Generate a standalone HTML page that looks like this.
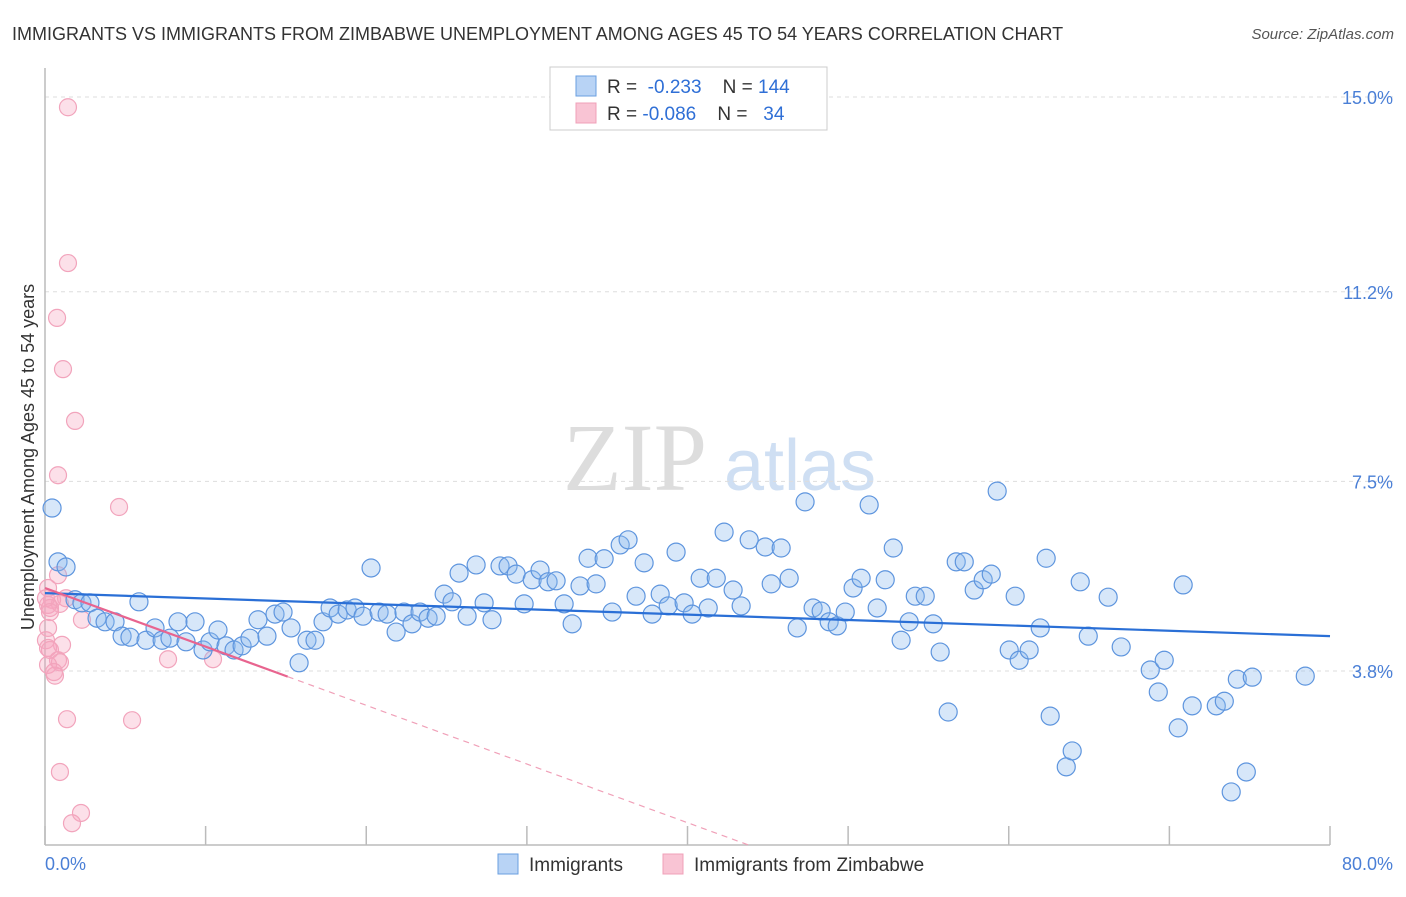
<!DOCTYPE html>
<html><head><meta charset="utf-8"><style>
body{margin:0;background:#fff;font-family:"Liberation Sans",sans-serif;}
svg text{font-family:"Liberation Sans",sans-serif;}
</style></head><body>
<svg id="chart" width="1406" height="892" viewBox="0 0 1406 892" xmlns="http://www.w3.org/2000/svg">
<text x="12" y="40" font-size="18" fill="#333">IMMIGRANTS VS IMMIGRANTS FROM ZIMBABWE UNEMPLOYMENT AMONG AGES 45 TO 54 YEARS CORRELATION CHART</text>
<text x="1394" y="39" font-size="15" fill="#555" text-anchor="end" font-style="italic">Source: ZipAtlas.com</text>
<g>
<text x="635" y="490" font-size="96" fill="#ddd" text-anchor="middle" font-family="Liberation Serif" style="font-family:'Liberation Serif',serif">ZIP</text>
<text x="800" y="490" font-size="72" fill="#cfdff3" text-anchor="middle">atlas</text>
</g>
<g id="grid"></g>
<g id="axes"></g>
<g id="pink-pts"></g>
<g id="blue-pts"></g>
<g id="trends"></g>
<text transform="translate(34,457) rotate(-90)" font-size="18" fill="#333" text-anchor="middle">Unemployment Among Ages 45 to 54 years</text>
<text x="45" y="870" font-size="18" fill="#4a7fd6">0.0%</text>
<text x="1393" y="870" font-size="18" fill="#4a7fd6" text-anchor="end">80.0%</text>
<g>
<rect x="550" y="67" width="277" height="63" fill="#fff" stroke="#ccc"/>
<rect x="576" y="76" width="20" height="20" fill="#b8d3f5" stroke="#6a9fe0"/>
<rect x="576" y="103" width="20" height="20" fill="#f9c4d4" stroke="#f0a0b8"/>
<text x="607" y="93" font-size="19" fill="#333">R = <tspan fill="#2f6fd6">&#160;-0.233</tspan>&#160;&#160;&#160;&#160;N = <tspan fill="#2f6fd6">144</tspan></text>
<text x="607" y="120" font-size="19" fill="#333">R = <tspan fill="#2f6fd6">-0.086</tspan>&#160;&#160;&#160;&#160;N = <tspan fill="#2f6fd6">&#160;&#160;34</tspan></text>
</g>
<g>
<rect x="498" y="854" width="20" height="20" fill="#b8d3f5" stroke="#6a9fe0"/>
<text x="529" y="871" font-size="19" fill="#333">Immigrants</text>
<rect x="663" y="854" width="20" height="20" fill="#f9c4d4" stroke="#f0a0b8"/>
<text x="694" y="871" font-size="19" fill="#333">Immigrants from Zimbabwe</text>
</g>
</svg>
<script>
const yTicks=[3.8,7.5,11.2,15.0];
const yTickLabels=["3.8%","7.5%","11.2%","15.0%"];
const xTicks=[0,10,20,30,40,50,60,70,80];
const blueX=[0.44,0.81,1.31,1.87,2.30,2.80,3.24,3.74,4.36,4.80,5.29,5.85,6.29,6.85,7.29,7.78,8.28,8.78,9.34,9.84,10.27,10.77,11.27,11.77,12.27,12.76,13.26,13.82,14.32,14.82,15.32,15.82,16.31,16.81,17.31,17.75,18.25,18.81,19.30,19.80,20.30,20.80,21.30,21.86,22.35,22.85,23.35,23.85,24.35,24.85,25.34,25.78,26.28,26.84,27.34,27.83,28.33,28.83,29.33,29.83,30.33,30.82,31.32,31.82,32.32,32.82,33.31,33.81,34.31,34.81,35.31,35.81,36.30,36.80,37.30,37.80,38.30,38.80,39.29,39.79,40.29,40.79,41.29,41.79,42.28,42.84,43.34,43.84,44.84,45.21,45.83,46.33,46.83,47.32,47.82,48.32,48.82,49.32,49.82,50.31,50.81,51.31,51.81,52.31,52.81,53.30,53.80,54.18,54.80,55.30,55.73,56.23,56.73,57.23,57.85,58.41,58.91,59.28,60.03,60.40,60.65,61.27,61.96,62.33,62.58,63.58,63.95,64.45,64.95,66.19,67.00,68.81,69.31,69.68,70.55,70.86,71.42,72.92,73.42,73.85,74.23,74.79,75.16,78.46];
const blueY=[6.98,5.93,5.83,5.19,5.13,5.13,4.83,4.76,4.76,4.48,4.46,5.15,4.40,4.64,4.40,4.44,4.76,4.37,4.76,4.21,4.37,4.60,4.29,4.21,4.29,4.44,4.80,4.48,4.91,4.95,4.64,3.96,4.40,4.40,4.76,5.03,4.91,4.99,5.03,4.87,5.81,4.95,4.91,4.56,4.95,4.72,4.95,4.83,4.87,5.30,5.15,5.71,4.87,5.87,5.13,4.80,5.85,5.85,5.69,5.11,5.58,5.77,5.54,5.56,5.11,4.72,5.46,6.00,5.50,5.99,4.95,6.26,6.36,5.26,5.91,4.91,5.30,5.07,6.12,5.13,4.91,5.61,5.03,5.61,6.51,5.38,5.07,6.36,6.22,5.50,6.20,5.61,4.64,7.10,5.03,4.97,4.76,4.68,4.95,5.42,5.61,7.04,5.03,5.58,6.20,4.40,4.76,5.26,5.26,4.72,4.17,3.00,5.93,5.93,5.38,5.58,5.69,7.31,4.21,5.26,4.01,4.21,4.64,6.00,2.92,1.93,2.24,5.54,4.48,5.24,4.27,3.82,3.39,4.01,2.69,5.48,3.12,3.12,3.21,1.44,3.64,1.83,3.68,3.70];
const pinkX=[1.43,1.43,0.75,1.12,1.87,0.81,4.61,0.81,0.19,1.31,0.44,0.93,0.19,0.31,2.30,0.19,0.06,1.06,0.19,0.31,0.81,0.93,0.19,0.56,0.62,7.66,10.46,1.37,5.42,0.93,2.24,1.68,0.06,0.31];
const pinkY=[14.80,11.76,10.69,9.69,8.68,7.62,7.00,5.67,5.42,5.22,5.19,5.11,5.09,5.03,4.80,4.64,4.40,4.31,4.25,4.21,4.01,3.97,3.92,3.78,3.71,4.03,4.03,2.86,2.84,1.83,1.03,0.83,5.22,4.95];
const blueTrend=[5.32,4.48];
const pinkTrend=[5.42,-0.1145];
const pinkSolidEnd=15.11;

const X0=45,X1=1330,Y0=845;
const xs=v=>X0+(v/80)*(X1-X0);
const ys=v=>865.75-v*51.25;
const NS="http://www.w3.org/2000/svg";
function mk(tag,attrs,parent){const e=document.createElementNS(NS,tag);for(const k in attrs)e.setAttribute(k,attrs[k]);document.getElementById(parent).appendChild(e);return e;}

yTicks.forEach((t,i)=>{
  const l=mk('line',{x1:X0,x2:1393,y1:ys(t),y2:ys(t),stroke:'#ddd','stroke-dasharray':'4,4'},'grid');
  
  
  const tx=mk('text',{x:1393,y:ys(t)+7,'font-size':18,fill:'#4a7fd6','text-anchor':'end'},'grid');
  tx.textContent=yTickLabels[i];
  
  
});
let a=mk('line',{x1:X0,x2:X0,y1:68,y2:Y0,stroke:'#bbb','stroke-width':1.5},'axes');


a=mk('line',{x1:X0,x2:X1,y1:Y0,y2:Y0,stroke:'#bbb','stroke-width':1.5},'axes');


xTicks.forEach(t=>{
  const l=mk('line',{x1:xs(t),x2:xs(t),y1:Y0-19,y2:Y0,stroke:'#bbb','stroke-width':1.5},'axes');
  
  
});
pinkX.forEach((x,i)=>{
  const c=mk('circle',{cx:xs(x),cy:ys(pinkY[i]),r:8.5,fill:'rgba(246,165,192,0.35)',stroke:'#f2a4bc','stroke-width':1.2},'pink-pts');
  
  
});
blueX.forEach((x,i)=>{
  const c=mk('circle',{cx:xs(x),cy:ys(blueY[i]),r:9,fill:'rgba(140,185,238,0.35)',stroke:'#5e95de','stroke-width':1.2},'blue-pts');
  
  
});
let t=mk('line',{x1:xs(0),y1:ys(blueTrend[0]),x2:xs(80),y2:ys(blueTrend[1]),stroke:'#2a6fd6','stroke-width':2.2},'trends');


t=mk('line',{x1:xs(0),y1:ys(pinkTrend[0]),x2:xs(pinkSolidEnd),y2:ys(pinkTrend[0]+pinkTrend[1]*pinkSolidEnd),stroke:'#e8648f','stroke-width':2.2},'trends');


const xEnd=(pinkTrend[0]-(865.75-Y0)/51.25)/(-pinkTrend[1]);
t=mk('line',{x1:xs(pinkSolidEnd),y1:ys(pinkTrend[0]+pinkTrend[1]*pinkSolidEnd),x2:xs(xEnd),y2:ys(pinkTrend[0]+pinkTrend[1]*xEnd),stroke:'#f0a0b8','stroke-width':1.2,'stroke-dasharray':'6,5'},'trends');


</script>
</body></html>
